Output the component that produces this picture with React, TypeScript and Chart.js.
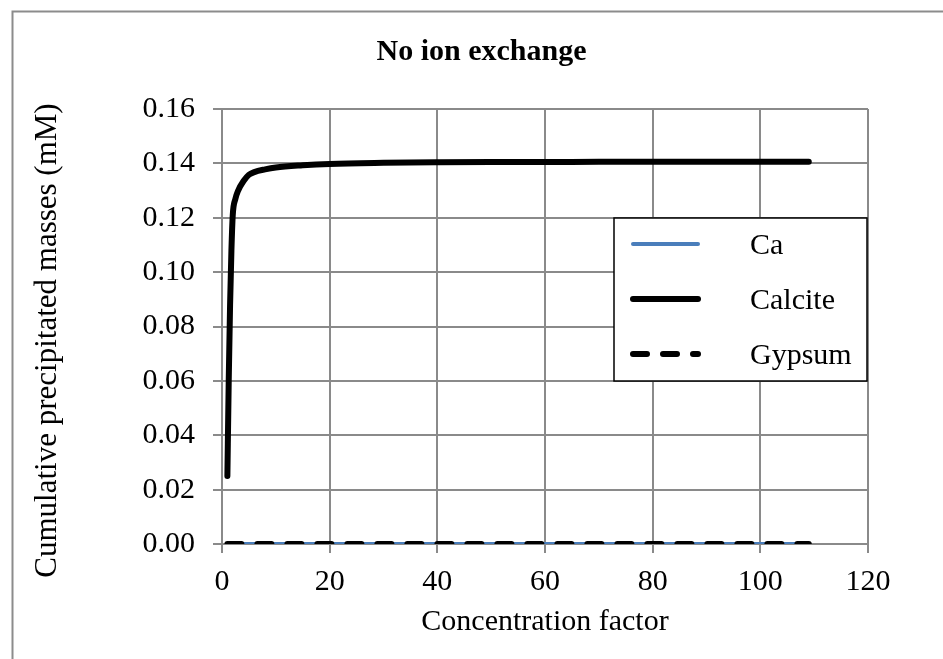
import React, { useEffect, useRef } from "react";
import { Chart, registerables } from "chart.js";

Chart.register(...registerables);

// ---- data ----
const concentrationFactor = [1, 1.25, 1.5, 1.75, 2, 2.5, 3, 4, 5, 6, 8, 10, 15, 20, 30, 40, 50, 60, 70, 80, 90, 100, 109];
const caValues = [0, 0, 0, 0, 0, 0, 0, 0, 0, 0, 0, 0, 0, 0, 0, 0, 0, 0, 0, 0, 0, 0, 0];
const calciteValues = [0.025, 0.06, 0.088, 0.108, 0.121, 0.127, 0.13, 0.1335, 0.1358, 0.1368, 0.1378, 0.1385, 0.1393, 0.1398, 0.1402, 0.1404, 0.1405, 0.1405, 0.1406, 0.1406, 0.1406, 0.1406, 0.1406];
const gypsumValues = [0, 0, 0, 0, 0, 0, 0, 0, 0, 0, 0, 0, 0, 0, 0, 0, 0, 0, 0, 0, 0, 0, 0];
const seriesNames = ["Ca", "Calcite", "Gypsum"];
const xTickValues = [0, 20, 40, 60, 80, 100, 120];
const yTickValues = [0, 0.02, 0.04, 0.06, 0.08, 0.1, 0.12, 0.14, 0.16];
const chartTitle = "No ion exchange";
const xTitle = "Concentration factor";
const yTitle = "Cumulative precipitated masses (mM)";

const FONT = "'Liberation Serif', 'Times New Roman', serif";
const GRID = "#8a8a8a";

const toPoints = (ys: number[]) => concentrationFactor.map((x, i) => ({ x, y: ys[i] }));

const framePlugin = {
  id: "frame",
  beforeDraw(chart: any) {
    const ctx = chart.ctx;
    ctx.save();
    ctx.fillStyle = "#ffffff";
    ctx.fillRect(0, 0, chart.width, chart.height);
    ctx.strokeStyle = "#8c8c8c";
    ctx.lineWidth = 2;
    ctx.beginPath();
    ctx.moveTo(12.5, chart.height + 5);
    ctx.lineTo(12.5, 11.5);
    ctx.lineTo(chart.width + 5, 11.5);
    ctx.stroke();
    ctx.restore();
  },
};

const yTitlePlugin = {
  id: "yTitle",
  afterDraw(chart: any) {
    const ctx = chart.ctx;
    const area = chart.chartArea;
    ctx.save();
    ctx.translate(48, (area.top + area.bottom) / 2 + 14);
    ctx.rotate(-Math.PI / 2);
    ctx.fillStyle = "#000000";
    ctx.font = `31px ${FONT}`;
    ctx.textAlign = "center";
    ctx.textBaseline = "middle";
    ctx.fillText(yTitle, 0, 0);
    ctx.restore();
  },
};

const legendBoxPlugin = {
  id: "legendBox",
  afterDatasetsDraw(chart: any) {
    const ctx = chart.ctx;
    const area = chart.chartArea;
    const left = area.left + 392;
    const top = area.top + 109;
    const right = area.right - 1;
    const bottom = top + 163;
    ctx.save();
    ctx.fillStyle = "#ffffff";
    ctx.fillRect(left, top, right - left, bottom - top);
    ctx.strokeStyle = "#000000";
    ctx.lineWidth = 1.5;
    ctx.strokeRect(left, top, right - left, bottom - top);
    chart.data.datasets.forEach((ds: any, i: number) => {
      const y = top + 26 + i * 55;
      ctx.save();
      ctx.strokeStyle = ds.borderColor;
      ctx.lineWidth = ds.borderWidth;
      ctx.lineCap = "round";
      ctx.setLineDash(ds.borderDash || []);
      ctx.beginPath();
      ctx.moveTo(left + 19, y);
      ctx.lineTo(left + 84, y);
      ctx.stroke();
      ctx.restore();
      ctx.fillStyle = "#000000";
      ctx.font = `30px ${FONT}`;
      ctx.textBaseline = "middle";
      ctx.textAlign = "left";
      ctx.fillText(ds.label, left + 136, y + 2);
    });
    ctx.restore();
  },
};

export default function App() {
  const canvasRef = useRef<HTMLCanvasElement | null>(null);

  useEffect(() => {
    const canvas = canvasRef.current;
    if (!canvas) return;
    const chart = new Chart(canvas, {
      type: "line",
      data: {
        datasets: [
          {
            label: seriesNames[0],
            data: toPoints(caValues),
            borderColor: "#4a7ebb",
            borderWidth: 4,
            pointRadius: 0,
            order: 3,
            borderCapStyle: "round",
          },
          {
            label: seriesNames[1],
            data: toPoints(calciteValues),
            borderColor: "#000000",
            borderWidth: 6,
            pointRadius: 0,
            order: 2,
            cubicInterpolationMode: "monotone",
            borderCapStyle: "round",
            borderJoinStyle: "round",
          },
          {
            label: seriesNames[2],
            data: toPoints(gypsumValues),
            borderColor: "#000000",
            borderWidth: 6,
            borderDash: [14, 16],
            pointRadius: 0,
            order: 1,
            borderCapStyle: "round",
          },
        ],
      },
      options: {
        animation: false,
        responsive: false,
        layout: { padding: { left: 20, top: 0, right: 0, bottom: 0 } },
        plugins: {
          legend: { display: false },
          tooltip: { enabled: false },
          title: {
            display: true,
            text: chartTitle,
            color: "#000000",
            font: { family: FONT, size: 30, weight: "bold" },
            padding: { top: 34, bottom: 39 },
          },
        },
        scales: {
          x: {
            type: "linear",
            min: 0,
            max: 120,
            afterBuildTicks: (scale: any) => {
              scale.ticks = xTickValues.map((v) => ({ value: v }));
            },
            afterFit: (scale: any) => {
              scale.height = 115;
            },
            ticks: {
              color: "#000000",
              font: { family: FONT, size: 30 },
              padding: 11,
              maxRotation: 0,
              autoSkip: false,
              callback: (v: any) => String(v),
            },
            grid: { color: GRID, lineWidth: 2, tickLength: 9, tickColor: GRID },
            border: { color: GRID, width: 2 },
            title: {
              display: true,
              text: xTitle,
              color: "#000000",
              font: { family: FONT, size: 30 },
              padding: { top: 0, bottom: 19 },
            },
          },
          y: {
            type: "linear",
            min: 0,
            max: 0.16,
            afterBuildTicks: (scale: any) => {
              scale.ticks = yTickValues.map((v) => ({ value: v }));
            },
            afterFit: (scale: any) => {
              scale.width = 202;
            },
            ticks: {
              color: "#000000",
              font: { family: FONT, size: 30 },
              padding: 18,
              autoSkip: false,
              callback: (v: any) => Number(v).toFixed(2),
            },
            grid: { color: GRID, lineWidth: 2, tickLength: 9, tickColor: GRID },
            border: { color: GRID, width: 2 },
          },
          yRight: {
            type: "linear",
            position: "right",
            display: true,
            grid: { display: false, drawTicks: false },
            border: { display: false },
            ticks: { display: false },
            afterFit: (scale: any) => {
              scale.width = 75;
            },
          },
        },
      },
      plugins: [framePlugin, yTitlePlugin, legendBoxPlugin],
    } as any);
    return () => chart.destroy();
  }, []);

  return (
    <div style={{ position: "absolute", left: 0, top: 0, width: 943, height: 659, background: "#fff" }}>
      <canvas ref={canvasRef} width={943} height={659} style={{ display: "block" }} />
    </div>
  );
}
